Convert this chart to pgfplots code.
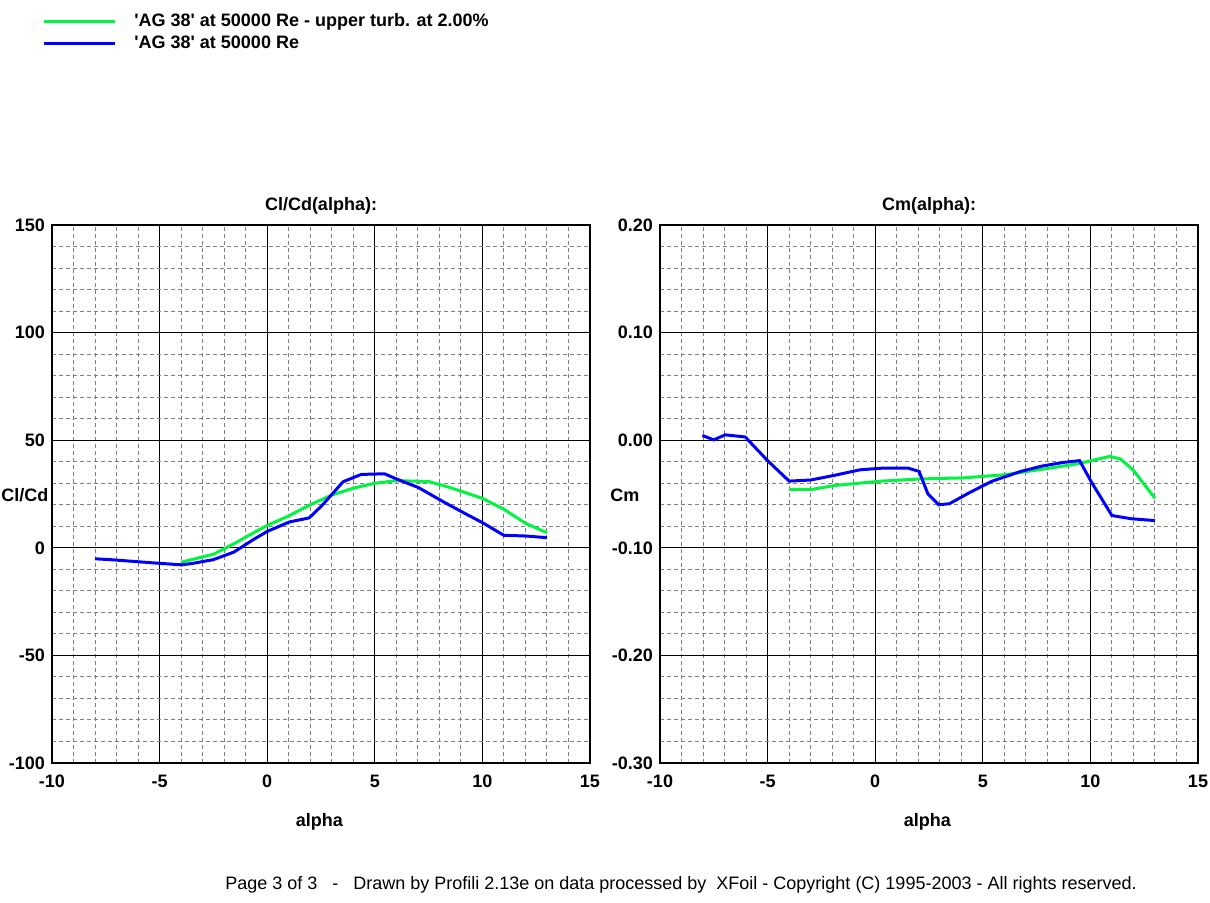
\documentclass[border=0pt]{standalone}
\usepackage{pgfplots}
\pgfplotsset{compat=1.18}
\usepackage{pgfplotstable}
\usepackage{fontspec}
\setmainfont{Liberation Sans}
\definecolor{cgreen}{RGB}{0,245,64}
\definecolor{cblue}{RGB}{0,0,255}

\pgfplotstableread{
a v
-8 -5.1
-7.3 -5.5
-5.3 -7.0
-4 -7.9
-3.5 -7.3
-2.5 -5.5
-1.55 -2.0
-0.63 3.9
0 7.6
1.03 12.0
1.95 13.9
2.53 19.5
3.53 30.7
4.37 34.1
5.45 34.4
6.03 31.9
7.03 28.0
8.2 21.3
9.2 15.9
10 11.7
11 5.8
12 5.5
13 4.7
}\blueclcd

\pgfplotstableread{
a v
-4 -6.7
-2.5 -3.0
-1.6 1.6
-0.63 7.0
0 10.4
1 14.8
2 20.0
3 24.5
4 27.7
5 30.0
6 31.2
7.5 30.8
8.5 28.0
10 23.0
11 17.9
12 11.4
13 7.0
}\greenclcd

\pgfplotstableread{
a v
-8.03 0.0044
-7.5 0.0003
-6.97 0.005
-6.04 0.003
-5 -0.019
-4 -0.038
-3 -0.037
-1.86 -0.0325
-0.7 -0.0275
0.3 -0.026
1.54 -0.026
2.04 -0.029
2.45 -0.050
2.95 -0.060
3.45 -0.059
4.45 -0.048
5.44 -0.038
6.77 -0.029
7.76 -0.024
8.76 -0.0206
9.5 -0.019
10.05 -0.039
11 -0.070
11.9 -0.073
13 -0.0747
}\bluecm

\pgfplotstableread{
a v
-4 -0.0456
-2.9 -0.0456
-1.86 -0.042
0.3 -0.038
2.1 -0.036
4.1 -0.035
6.07 -0.032
7.76 -0.027
9.4 -0.022
10.9 -0.015
11.4 -0.0175
12 -0.028
13 -0.054
}\greencm

\newcommand{\bfnt}{\fontsize{9}{10.5}\selectfont\bfseries}
\newcommand{\q}{\textquotesingle}

\pgfplotsset{
  myaxis/.style={
    width=269pt, height=269pt, scale only axis,
    anchor=south west,
    xmin=-10, xmax=15,
    xtick={-10,-5,0,5,10,15},
    xticklabels={-10,-5,0,5,10,15},
    minor x tick num=4, minor y tick num=4,
    grid=both,
    major grid style={black, line width=0.5pt},
    minor grid style={gray, dash pattern=on 2pt off 1.5pt, line width=0.5pt},
    axis line style={black, line width=0.9pt},
    major tick length=0pt, minor tick length=0pt,
    tick label style={font=\bfnt},
    xticklabel style={yshift=-2.5pt},
    title style={font=\bfnt, yshift=-4pt},
    every axis plot/.append style={line width=1.5pt},
    clip=false,
  },
}

\begin{document}
\begin{tikzpicture}
\path[use as bounding box] (0,0) rectangle (605pt,451pt);

\begin{axis}[myaxis,
  at={(26pt,69.5pt)},
  ymin=-100, ymax=150,
  ytick={-100,-50,0,50,100,150},
  yticklabels={-100,-50,0,50,100,150},
  title={Cl/Cd(alpha):},
  legend style={at={(axis description cs:-0.0186,1.402)}, anchor=north west,
    draw=none, fill=none, inner sep=0pt,
    font=\bfnt,
    row sep=-0.5pt,
    /tikz/every odd column/.append style={column sep=7pt}},
  legend cell align=left,
  legend image code/.code={\draw[#1] (0pt,0pt) -- (35.5pt,0pt);},
]
\addplot[cgreen, no marks] table[x=a,y=v] {\greenclcd};
\addlegendentry{\q AG 38\q{} at 50000 Re - upper turb. at 2.00\%}
\addplot[cblue, no marks] table[x=a,y=v] {\blueclcd};
\addlegendentry{\q AG 38\q{} at 50000 Re}
\node[anchor=west, inner sep=0pt, font=\bfnt] at (axis description cs:-0.095,0.498) {Cl/Cd};
\node[font=\bfnt] at (axis description cs:0.497,-0.11) {alpha};
\end{axis}

\begin{axis}[myaxis,
  at={(330pt,69.5pt)},
  ymin=-0.3, ymax=0.2,
  ytick={-0.3,-0.2,-0.1,0,0.1,0.2},
  yticklabels={-0.30,-0.20,-0.10,0.00,0.10,0.20},
  title={Cm(alpha):},
]
\addplot[cgreen, no marks] table[x=a,y=v] {\greencm};
\addplot[cblue, no marks] table[x=a,y=v] {\bluecm};
\node[anchor=west, inner sep=0pt, font=\bfnt] at (axis description cs:-0.093,0.498) {Cm};
\node[font=\bfnt] at (axis description cs:0.497,-0.11) {alpha};
\end{axis}

\node[font=\fontsize{9}{10.5}\selectfont] at (340.5pt,8.5pt) {Page 3 of 3\ \ \ -\ \ \ Drawn by Profili 2.13e on data processed by\ \ XFoil - Copyright (C) 1995-2003 - All rights reserved.};
\end{tikzpicture}
\end{document}
